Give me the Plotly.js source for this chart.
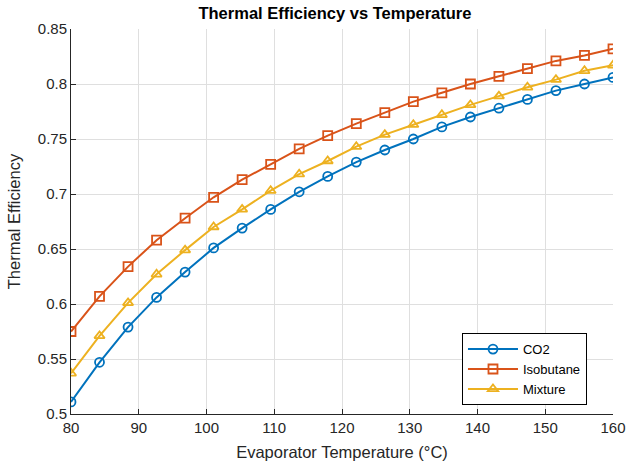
<!DOCTYPE html>
<html>
<head>
<meta charset="utf-8">
<script src="https://cdn.plot.ly/plotly-3.0.1.min.js"></script>
<style>
  html, body { margin: 0; padding: 0; background: #ffffff; }
  #chart { width: 629px; height: 466px; }
</style>
</head>
<body>
<div id="chart"></div>
<script>
// Evaporator temperatures (°C)
const temperature = [80, 84.21, 88.42, 92.63, 96.84, 101.05, 105.26, 109.47, 113.68, 117.89,
                     122.11, 126.32, 130.53, 134.74, 138.95, 143.16, 147.37, 151.58, 155.79, 160];

// Thermal efficiency for each working fluid
const effCO2 = [0.511, 0.547, 0.579, 0.606, 0.629, 0.651, 0.669, 0.686, 0.702, 0.716,
                0.729, 0.740, 0.750, 0.761, 0.770, 0.778, 0.786, 0.794, 0.800, 0.806];
const effIsobutane = [0.575, 0.607, 0.634, 0.658, 0.678, 0.697, 0.713, 0.727, 0.741, 0.753,
                      0.764, 0.774, 0.784, 0.792, 0.800, 0.807, 0.814, 0.821, 0.826, 0.832];
const effMixture = [0.537, 0.571, 0.601, 0.627, 0.649, 0.670, 0.686, 0.703, 0.718, 0.730,
                    0.743, 0.754, 0.763, 0.772, 0.781, 0.789, 0.797, 0.804, 0.812, 0.817];

const seriesNames = ['CO2', 'Isobutane', 'Mixture'];
const xTicks = [80, 90, 100, 110, 120, 130, 140, 150, 160];
const yTicks = [0.5, 0.55, 0.6, 0.65, 0.7, 0.75, 0.8, 0.85];

const FONT = 'Liberation Sans, Arial, sans-serif';
const INK = '#262626';

function series(name, y, color, symbol) {
  return {
    type: 'scatter',
    mode: 'lines+markers',
    name: name,
    x: temperature,
    y: y,
    line: { color: color, width: 2 },
    marker: {
      symbol: symbol,
      size: 9,
      color: color,
      line: { color: color, width: 1.8 }
    }
  };
}

const data = [
  series(seriesNames[0], effCO2, '#0072BD', 'circle-open'),
  series(seriesNames[1], effIsobutane, '#D95319', 'square-open'),
  series(seriesNames[2], effMixture, '#EDB120', 'triangle-up-open')
];

const layout = {
  width: 629,
  height: 466,
  paper_bgcolor: '#ffffff',
  plot_bgcolor: '#ffffff',
  margin: { l: 71, r: 16, t: 29, b: 52 },
  font: { family: FONT, color: INK },
  title: {
    text: '<b>Thermal Efficiency vs Temperature</b>',
    font: { family: FONT, size: 16.5, color: '#000000' },
    x: 0.5325, xanchor: 'center',
    y: 0.972, yanchor: 'middle'
  },
  xaxis: {
    range: [80, 160],
    tickvals: xTicks,
    ticktext: xTicks.map(String),
    showgrid: true,
    gridcolor: '#dfdfdf',
    gridwidth: 1,
    zeroline: false,
    showline: true,
    linecolor: INK,
    linewidth: 1,
    mirror: false,
    ticks: 'inside',
    ticklen: 5,
    tickcolor: INK,
    tickfont: { family: FONT, size: 15, color: INK },
    title: {
      text: 'Evaporator Temperature (°C)',
      font: { family: FONT, size: 16.5, color: INK },
      standoff: 11
    }
  },
  yaxis: {
    range: [0.5, 0.85],
    tickvals: yTicks,
    ticktext: yTicks.map(String),
    showgrid: true,
    gridcolor: '#dfdfdf',
    gridwidth: 1,
    zeroline: false,
    showline: true,
    linecolor: INK,
    linewidth: 1,
    mirror: false,
    ticks: 'inside',
    ticklen: 5,
    tickcolor: INK,
    tickfont: { family: FONT, size: 15, color: INK },
    title: {
      text: 'Thermal Efficiency',
      font: { family: FONT, size: 16.5, color: INK },
      standoff: 13
    }
  },
  legend: {
    x: 0.952, xanchor: 'right',
    y: 0.023, yanchor: 'bottom',
    bgcolor: '#ffffff',
    bordercolor: '#000000',
    borderwidth: 1,
    font: { family: FONT, size: 13, color: '#000000' },
    tracegroupgap: 0,
    itemwidth: 50
  },
  showlegend: true
};

Plotly.newPlot('chart', data, layout, { displayModeBar: false, staticPlot: true });
</script>
</body>
</html>
